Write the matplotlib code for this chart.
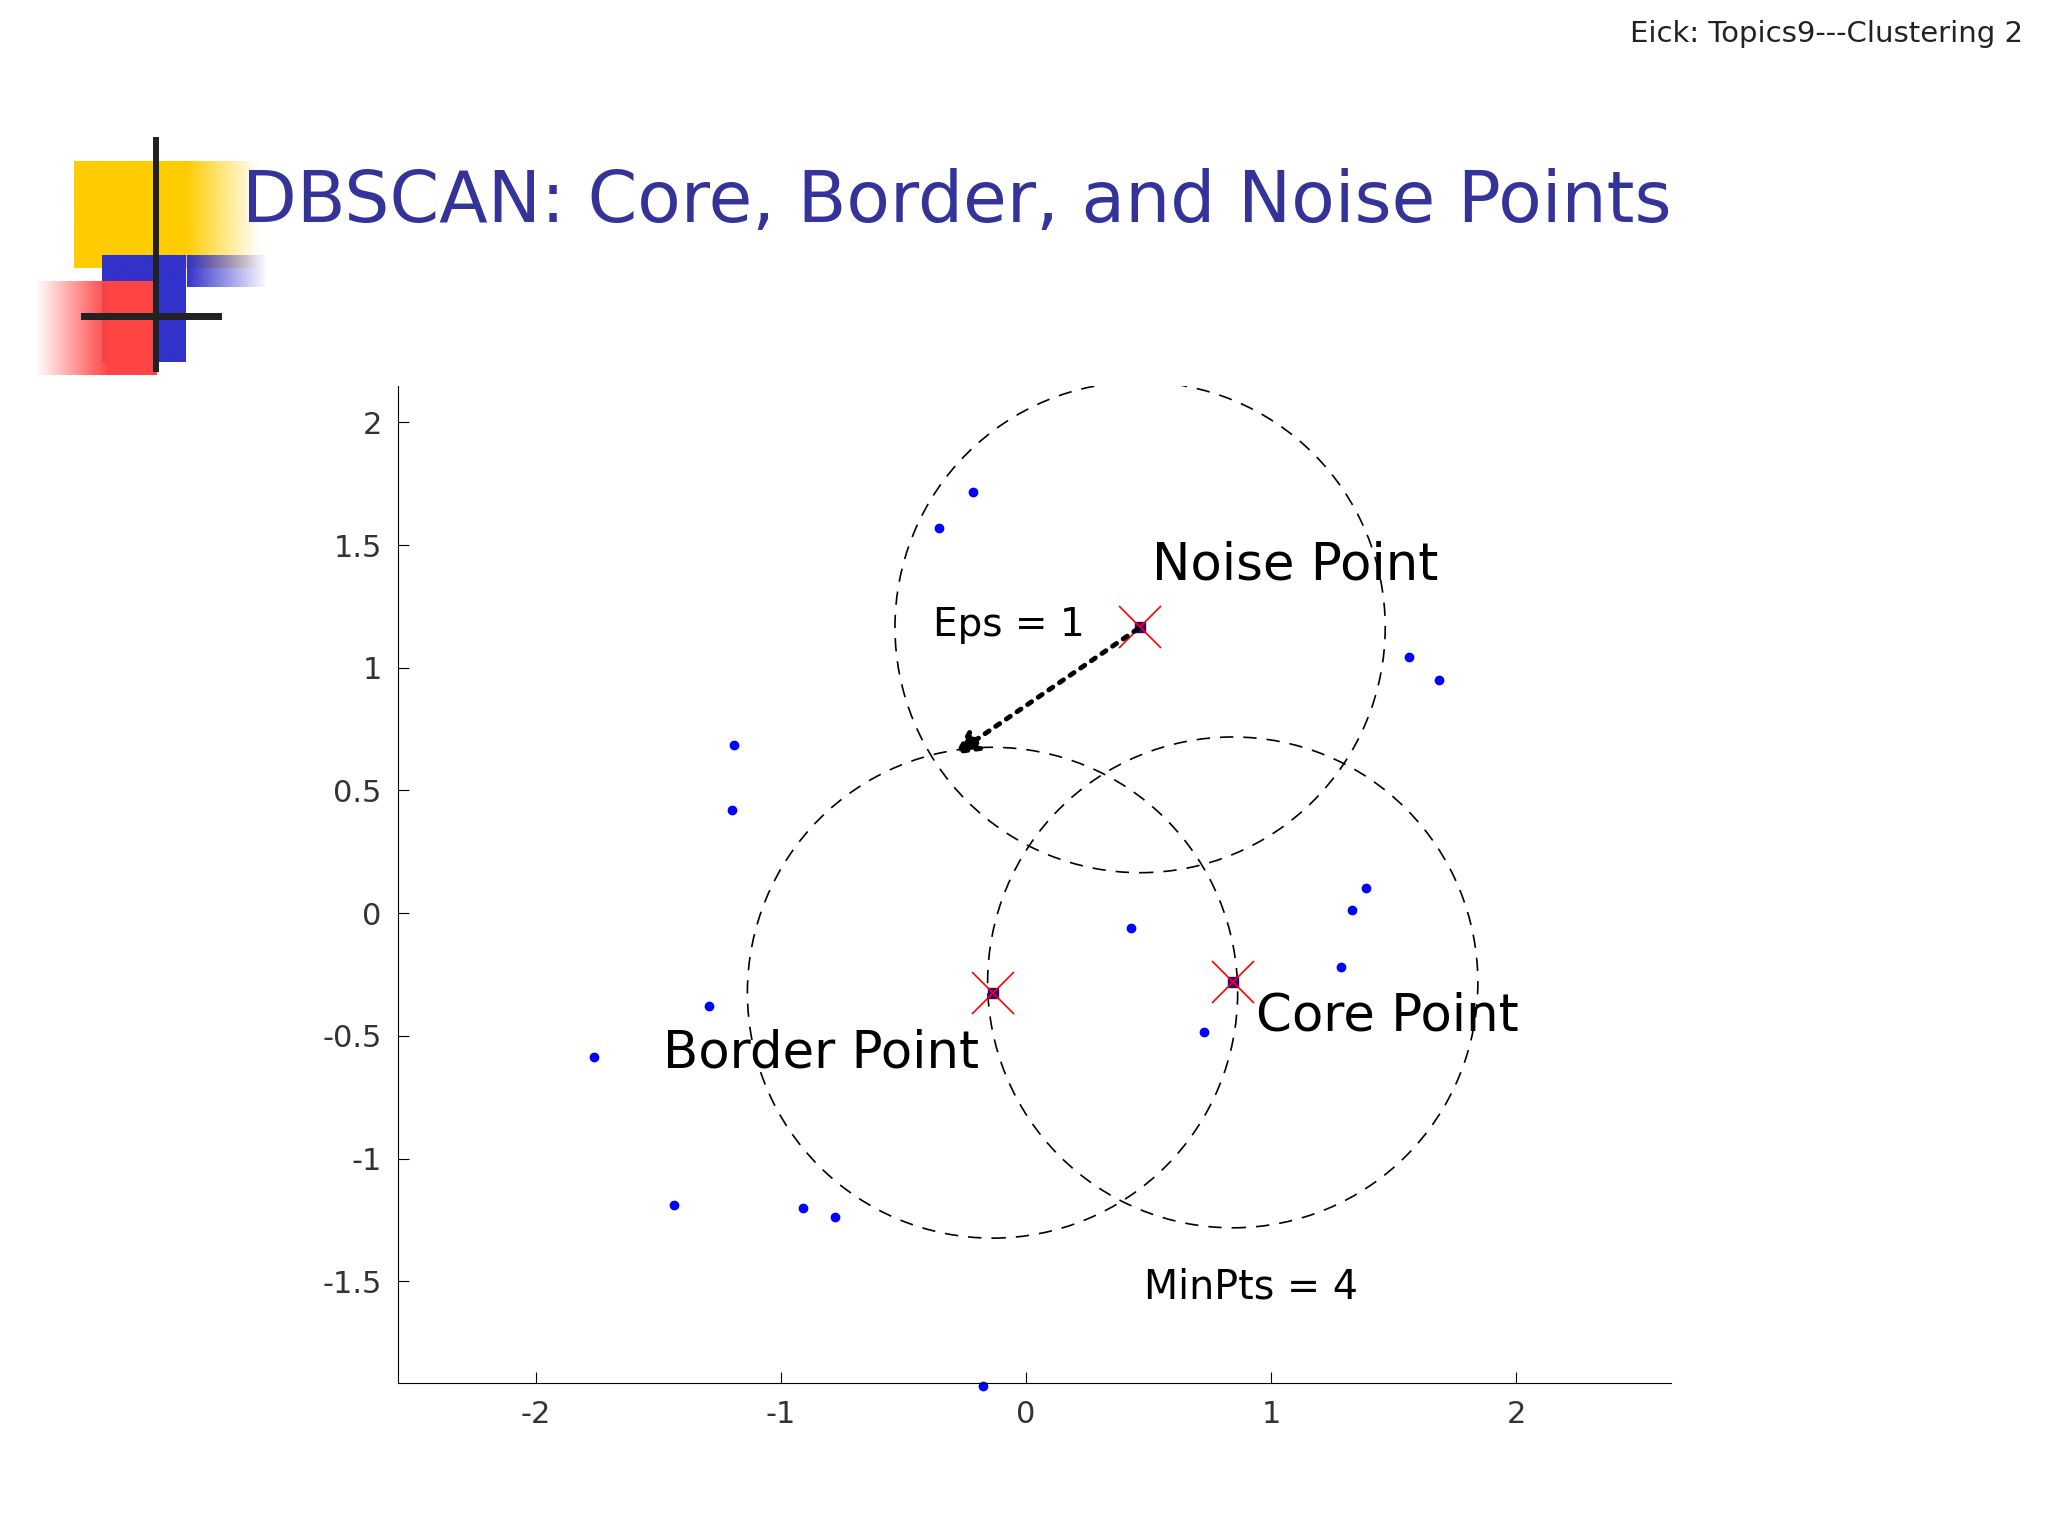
import numpy as np
import matplotlib.pyplot as plt
from matplotlib.patches import Rectangle, Circle

# data points
pts_x = [-0.215, -0.354, 1.563, 1.686, -1.19, -1.20, 1.387, 1.329, 0.429, 1.286,
         -1.292, 0.727, -1.76, -1.435, -0.908, -0.78, -0.173]
pts_y = [1.718, 1.569, 1.043, 0.952, 0.686, 0.42, 0.101, 0.011, -0.059, -0.218,
         -0.378, -0.484, -0.585, -1.191, -1.202, -1.239, -1.926]

# special points: noise, border, core
special_names = ['Noise Point', 'Border Point', 'Core Point']
special_x = [0.466, -0.136, 0.844]
special_y = [1.165, -0.324, -0.282]
eps = 1.0
arrow_end = (-0.30, 0.64)

xticks = [-2, -1, 0, 1, 2]
yticks = [-1.5, -1, -0.5, 0, 0.5, 1, 1.5, 2]

fig = plt.figure(figsize=(20.48, 15.36), dpi=100)
fig.patch.set_facecolor('white')

# slide header
fig.text(0.988, 0.978, 'Eick: Topics9---Clustering 2', ha='right', va='center',
         fontsize=21, color='#222222')
fig.text(0.118, 0.868, 'DBSCAN: Core, Border, and Noise Points', ha='left', va='center',
         fontsize=51.2, color='#333399', family='DejaVu Sans')

# logo decoration with fading edges
W, H = 1568.0, 1176.0
def grad_rect(x0, y0, x1, y1, rgb, fade='right', start=0.6):
    lax = fig.add_axes([x0 / W, 1 - y1 / H, (x1 - x0) / W, (y1 - y0) / H])
    lax.axis('off')
    n = 100
    t = np.linspace(0, 1, n)
    a = np.clip((1 - t) / (1 - start), 0, 1)
    img = np.zeros((10, n, 4))
    img[..., :3] = rgb
    img[..., 3] = a if fade == 'right' else a[::-1]
    lax.imshow(img, aspect='auto', interpolation='bilinear')
    return lax

grad_rect(57, 123, 200, 205, (1.0, 0.8, 0.0), start=0.6)
grad_rect(78, 195, 143, 277, (0.2, 0.2, 0.8), start=1.0)
grad_rect(143, 195, 205, 220, (0.2, 0.2, 0.8), start=0.0)
grad_rect(27, 215, 120, 287, (1.0, 0.27, 0.27), fade='left', start=0.4)

def rect(x0, y0, x1, y1, **kw):
    fig.patches.append(Rectangle((x0 / W, 1 - y1 / H), (x1 - x0) / W, (y1 - y0) / H,
                                 transform=fig.transFigure, **kw))
rect(117, 105, 122, 285, color='#222222', lw=0, zorder=10)
rect(62, 240, 170, 245, color='#222222', lw=0, zorder=10)

ax = fig.add_axes([0.1945, 0.0995, 0.6212, 0.6495])
ax.set_xlim(-2.56, 2.63)
ax.set_ylim(-1.915, 2.15)
for s in ['top', 'right']:
    ax.spines[s].set_visible(False)
ax.set_xticks(xticks)
ax.set_yticks(yticks)
ax.set_xticklabels([f'{t:g}' for t in xticks])
ax.set_yticklabels([f'{t:g}' for t in yticks])
ax.tick_params(labelsize=22, labelcolor='#333333', direction='in', length=8, pad=12)

ax.plot(pts_x, pts_y, 'o', color='blue', ms=6, clip_on=False)
for cx, cy in zip(special_x, special_y):
    ax.add_patch(Circle((cx, cy), eps, fill=False, ls=(0, (8, 6)), lw=1.2, color='black'))
    ax.plot(cx, cy, 's', color='#330088', ms=7)
    ax.plot(cx, cy, 'x', color='red', ms=30, mew=1.2)

ax.annotate('', xy=arrow_end, xytext=(special_x[0], special_y[0]),
            arrowprops=dict(arrowstyle='-|>', color='black', lw=3.5, ls=':',
                            mutation_scale=35))

ax.text(0.515, 1.36, 'Noise Point', fontsize=37)
ax.text(0.94, -0.48, 'Core Point', fontsize=37)
ax.text(-1.48, -0.63, 'Border Point', fontsize=37)
ax.text(-0.38, 1.13, 'Eps = 1', fontsize=28)
ax.text(0.48, -1.57, 'MinPts = 4', fontsize=28.5)

fig.savefig('out.png', dpi=100)
